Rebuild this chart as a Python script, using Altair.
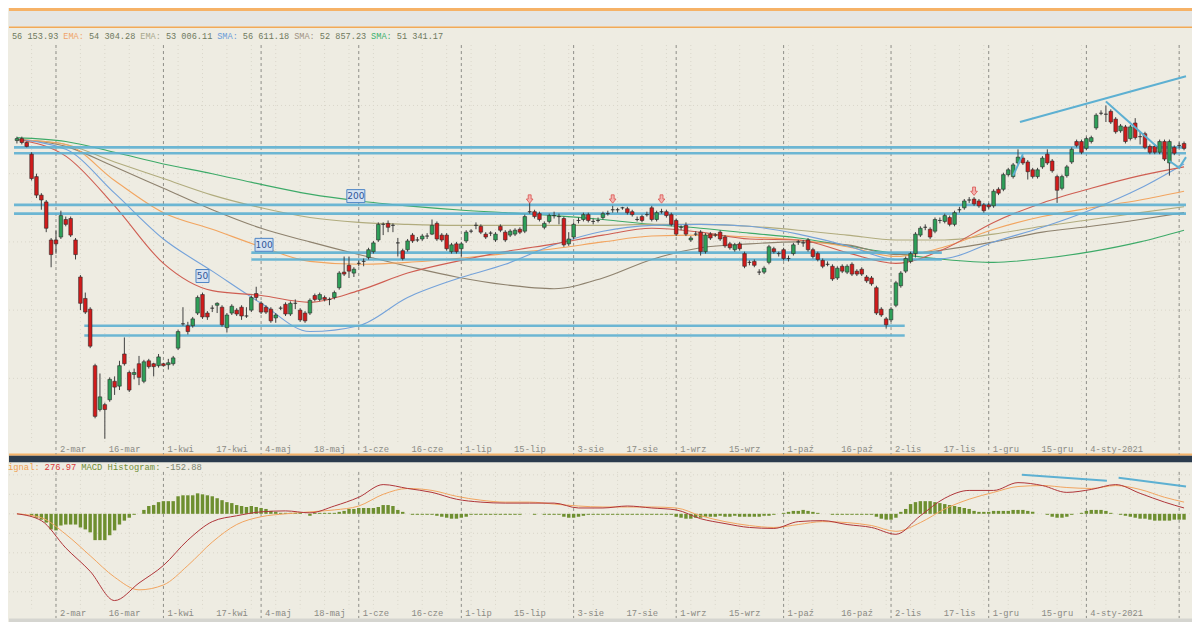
import altair as alt
import pandas as pd

# ---------------------------------------------------------------- layout
W, H = 1184, 614
SX, SY = W / 1200.0, H / 630.0

BG = "#EEECE2"
GREEN_C = "#2E9F58"
RED_C = "#D11B1B"
TL_C = "#5DB0D2"

# ---------------------------------------------------------------- data
# daily candles, trading-day index 0..239 (19-lut-2020 .. ~19-sty-2021)
OPEN = [
58200,58300,58100,57500,56350,55400,55050,53100,53100,53250,
54150,54200,53100,51200,50100,49550,46650,44400,44650,44900,
45850,45600,47250,46300,46200,46750,45850,46900,46750,46650,
46750,46700,46750,47550,48800,48700,48700,49350,50300,49350,
49600,49750,49650,48600,49350,49500,49650,49200,49500,50350,
49850,49650,49550,49100,49600,49800,49300,49850,49500,49350,
49350,50250,50050,50150,50050,50150,50650,51450,51800,51400,
51900,52000,52200,52500,53100,53900,53950,53850,52950,52550,
52600,53350,53100,53150,53300,53400,53950,53350,53350,52500,
52900,52650,53050,53550,53850,53800,53400,53450,53100,53800,
53500,53350,53400,53650,53550,54550,54550,54450,53750,54050,
54350,54300,54200,52900,53250,54100,54150,54400,54050,54100,
54250,54450,54650,54650,54750,54700,54550,54150,54300,54400,
54750,54150,54550,54550,54400,54100,53750,53850,53100,53400,
53500,52500,53400,53350,53500,53250,52900,52600,52900,52400,
51950,52000,51450,51450,51950,52650,52400,52600,52150,52400,
53000,52950,53100,52600,52400,52050,51850,51750,51150,51750,
51450,51850,51500,51600,51200,51150,50650,49550,49050,49000,
49750,50750,51500,52000,52400,53350,53750,53650,53550,54100,
54050,54250,53900,54650,54750,55150,55200,55100,54900,54900,
54850,55700,55700,56450,56350,57050,57300,57100,56700,56350,
56850,57500,57150,56350,55750,56400,57100,58150,58150,57800,
58150,58850,59600,59550,59700,59300,58700,58900,58300,59100,
58400,58550,57900,57900,57600,58150,57050,57850,57950,58050]
HIGH = [
58400,58400,58150,57600,56500,55500,55150,53200,53600,54600,
54300,54300,53200,51300,50400,49650,46750,46250,44750,46050,
46100,46900,48100,46400,46500,47150,46950,47000,46800,47250,
46800,47000,47150,48500,49650,48900,49150,50250,50400,49450,
49750,49900,49750,49350,49800,49600,49750,49650,50250,50700,
49950,49750,49650,49350,49700,49900,49950,50050,49600,49450,
50100,50350,50400,50250,50150,50500,51500,52250,52250,51700,
52050,52150,52700,53050,54000,54000,54100,53950,53200,52650,
53150,53450,53250,53400,53450,54150,54050,53450,53450,52950,
53000,53000,53600,53650,54000,53900,53500,53550,53500,53900,
53600,53650,53700,53750,54400,55000,54650,54550,54050,54450,
54550,54450,54300,53500,54000,54250,54500,54500,54200,54250,
54550,54600,54850,54750,54800,54800,54650,54300,54400,54550,
54850,54600,54700,54650,54500,54200,53850,54000,53300,53550,
53600,53450,53500,53450,53600,53350,53000,52950,53000,52500,
52050,52100,51600,51750,52850,52750,52500,52700,52300,52950,
53100,53100,53200,52700,52500,52150,52000,51850,51750,51850,
51850,51950,51600,51700,51300,51250,50750,49650,49150,49650,
51000,51500,52250,52500,53500,53800,53900,53750,54250,54250,
54450,54350,54600,54800,55200,55300,55300,55200,55000,55000,
55700,55800,56550,56800,57050,57750,57400,57200,56800,56800,
57400,57750,57250,56450,56450,56950,57850,58250,58250,58400,
58450,59600,59750,60000,59800,59400,59050,59000,59000,59350,
58650,58650,58000,58000,58250,58250,58250,57950,58100,58150]
LOW = [
58050,58000,57850,56150,55250,54650,53500,51700,52400,53150,
53800,53250,52100,49500,49300,47550,43950,44300,42900,44800,
45150,45400,46650,45300,45950,45650,45750,46500,46100,46550,
46600,46450,46650,47450,48700,48250,48600,49250,49050,49000,
49400,49350,48650,48350,49250,49200,49000,49100,49400,50000,
49300,49300,48850,48850,49500,49200,49200,49550,48900,48850,
49250,49950,49950,49950,49750,50050,50550,51250,51150,51200,
51750,51750,52100,52400,53000,53350,53500,53500,52250,52050,
52500,52950,53000,53050,53150,53350,53050,53000,52550,52400,
52400,52250,52950,53450,53650,53400,53150,53300,53000,53500,
53000,53250,53300,53400,53450,54450,54200,54050,53650,53950,
54200,53900,52750,52800,53150,53950,54050,54000,53900,54000,
54150,54350,54500,54500,54650,54400,54300,54050,54000,54300,
54050,54050,54450,54250,53800,53300,53600,53300,53000,53300,
52300,52400,53100,53250,53050,52700,52600,52500,52550,51650,
51800,51700,51300,51350,51850,52400,52250,52050,52000,52300,
52850,52750,52500,52150,52000,51650,51750,51000,51050,51400,
51350,51250,51250,51250,50900,50750,49250,49150,48550,48900,
49650,50650,51400,51900,52200,53250,53600,53150,53450,53950,
53950,53800,53800,54500,54650,55000,54850,54750,54500,54700,
54750,55400,55600,56350,56250,56950,56950,56200,56250,56250,
56750,56950,56550,55000,55650,56300,57000,57850,57500,57700,
58050,58750,59500,59150,59050,58550,58600,58050,58200,58250,
58000,57750,57500,57500,57500,57150,56400,57450,57800,57700]
CLOSE = [
58300,58100,57900,56250,55400,55150,53700,52350,52900,54350,
53900,53350,52350,49850,49400,47650,44050,45050,44400,45950,
45550,46650,46750,45400,46300,46050,46850,46600,46600,47100,
46650,46800,47050,48400,48800,48400,49050,50150,49150,49150,
49600,49850,48750,49250,49700,49300,49200,49200,50150,50150,
49400,49400,48950,49250,49600,49300,49850,49850,49000,48950,
50000,50050,50300,50050,50050,50400,51400,51350,51500,51600,
51900,52000,52600,52950,53900,53900,53750,53850,52950,52150,
53050,53050,53100,53300,53300,53850,53150,53100,52650,52850,
52500,52900,53500,53550,53850,53500,53250,53450,53400,53600,
53100,53550,53600,53500,54300,54550,54300,54150,53950,54350,
54350,54300,52850,53150,53900,54100,54400,54100,54050,54100,
54450,54450,54650,54650,54750,54500,54400,54150,54100,54400,
54150,54500,54550,54350,53900,53400,53750,53400,53200,53400,
52500,53350,53200,53350,53150,52800,52700,52850,52650,51750,
51950,51800,51450,51650,52750,52500,52400,52150,52150,52850,
53000,52950,52600,52250,52100,51750,51850,51100,51650,51500,
51750,51350,51350,51350,51000,50850,49350,49250,48750,49550,
50900,51400,52150,52400,53400,53700,53750,53250,54150,54100,
54350,53900,54500,54650,55100,55150,54950,54850,54600,54800,
55600,55500,56450,56700,56950,57350,57050,56600,56350,56700,
57300,57050,56650,55650,56350,56850,57750,57950,57600,58300,
58350,59500,59600,59550,59150,58650,58950,58150,58900,58350,
58400,57850,57600,57600,58150,57250,58150,57550,57950,57800]

# moving averages, read every 10 sessions
MA_K = [0,10,20,30,40,50,60,70,80,90,100,110,120,130,140,150,160,170,180,190,200,210,220,230,239]
EMA_RED = [58250,57400,54850,51900,50500,50250,49900,50500,51400,52000,52500,52900,53350,53700,53500,53150,53100,52450,51900,52650,54000,55000,55750,56400,56850]
EMA_ORANGE = [58250,58000,56150,54500,53650,52750,52000,51850,51950,52150,52400,52650,53000,53300,53350,53250,53100,52750,52250,52750,53650,54300,54750,55150,55600]
EMA_KHAKI = [58250,58000,57100,56250,55400,54750,54250,54000,53900,53850,53850,53850,53850,53900,53900,53800,53600,53350,53100,53100,53400,53800,54150,54500,54800]
SMA_50 = [58250,57750,55500,53150,51500,49850,48400,48700,50150,51100,51850,52850,53550,53850,53900,53800,53400,52800,52100,52150,53000,53750,54650,55750,57000]
SMA_100 = [58250,57900,56850,55750,54650,53700,53000,52350,51750,51200,50800,50600,51150,52100,52700,52900,53000,52850,52350,52600,53000,53500,53800,54150,54500]
SMA_200 = [58350,58150,57600,57000,56500,55950,55450,55100,54850,54650,54500,54350,54150,53900,53700,53450,53200,52800,52400,52100,51950,52150,52500,53000,53600]

# support / resistance levels
SR_LEVEL = [57850,57550,54900,54450,52450,52100,48700,48200]
SR_FROM = [-0.6,-0.6,-0.6,-0.6,48,48,13.8,13.8]
SR_TO = [239.4,239.4,239.4,239.4,189.4,189.4,181.8,181.8]

# drawn trend lines
TREND_ID = ["a","a","b","b","c","c","d","d","d"]
TREND_K = [205.4,239.4,223,233.4,204,206,236,238,239.4]
TREND_P = [59150,61500,60200,57900,56400,57500,57150,56800,57350]

# MA tags and signal arrows
TAG_TEXT = ["50","100","200"]
TAG_K = [38,50.6,69.4]
TAG_P = [51250,52850,55350]
ARROW_K = [105,122,132,196]
ARROW_P = [55200,55200,55200,55600]

# MACD panel
MACD_K = list(range(0, 240, 5)) + [239]
MACD_LINE = [0,-175,-875,-1475,-2225,-1775,-1325,-675,-200,-50,
             50,75,25,200,425,750,650,550,375,300,
             275,275,275,150,150,200,150,100,-125,-250,
             -350,-375,-200,-175,-275,-350,-525,-50,400,600,
             600,800,725,550,625,750,525,300,150]
MACD_SIGNAL = [0,-100,-525,-1075,-1625,-1950,-1825,-1325,-725,-275,
               -75,0,50,100,200,500,650,600,450,350,
               300,300,250,200,175,175,175,150,-50,-200,
               -300,-350,-275,-200,-225,-300,-450,-225,125,375,
               550,700,725,675,650,725,625,425,300]
HIST = [0,0,0,
        -50,-100,-150,-225,-400,-425,-300,-275,-275,-275,-350,-400,-475,-675,-675,-675,-550,-425,-275,-175,-100,-25,0,
        100,200,225,300,325,325,325,450,475,475,475,525,500,475,450,400,350,300,275,225,200,175,200,175,150,125,75,50,25,25,25,25,25,0,
        -50,25,25,25,25,25,50,75,125,125,150,150,150,150,175,225,225,200,100,50,0,
        -25,-25,-25,-25,-25,-50,
        -75,-100,-125,-125,-100,-75,
        -25,-25,-25,-25,-25,-25,-25,-25,-25,-25,-25,
        0,0,-25,0,-25,-25,-25,-25,
        -75,-100,-100,-75,-50,
        -25,-25,-25,-25,-25,-25,-25,-25,-25,-25,-25,-25,-25,-25,-25,-25,-25,-25,
        -75,-100,-125,-125,-100,-100,-75,
        -75,-75,-50,-75,-75,-50,-75,-75,-75,-75,-75,-50,-50,-25,0,
        25,50,75,75,100,75,50,25,
        0,0,-25,-25,-25,-25,-25,-25,-25,-25,-25,
        -75,-125,-150,-150,-100,
        50,125,250,300,325,325,325,300,275,250,225,200,175,150,125,75,50,50,
        50,75,75,75,75,100,100,100,75,50,
        0,0,-25,
        -75,-100,-100,-75,-25,
        0,25,
        75,100,100,100,75,25,0,
        -25,-50,-75,-100,-125,-125,-150,-175,-175,-175,-175,-150,-150,-150]
MACD_TREND_ID = ["a","a","b","b"]
MACD_TREND_K = [205.8,223.2,225.6,239.4]
MACD_TREND_V = [1000,850,925,700]

# x-axis labels
MONTH_K = [8,30,50,70,91,114,135,157,179,199,219,238]
MONTH_LABEL = ["2-mar","1-kwi","4-maj","1-cze","1-lip","3-sie","1-wrz","1-paź","2-lis","1-gru","4-sty-2021",""]
HALF_K = [18,40,60,80,101,124,145,168,189,209]
HALF_LABEL = ["16-mar","17-kwi","18-maj","16-cze","15-lip","17-sie","15-wrz","16-paź","17-lis","15-gru"]
WEEK_K = list(range(3, 240, 5))
PRICE_GRID = [60000,56500,53000,49500,46000]
MACD_GRID = [1000,500,0,-500,-1000,-1500,-2000]

LEGEND_TOP = [("56 153.93", "#6f7a5e"), ("EMA:", "#f0a46a"), ("54 304.28", "#6f7a5e"),
              ("EMA:", "#a8a88c"), ("53 006.11", "#6f7a5e"), ("SMA:", "#6a9bd8"),
              ("56 611.18", "#6f7a5e"), ("SMA:", "#a09282"), ("52 857.23", "#6f7a5e"),
              ("SMA:", "#3bb06e"), ("51 341.17", "#6f7a5e")]
LEGEND_MACD = [("ignal:", "#f0a050"), ("276.97", "#d83a3a"), ("MACD Histogram:", "#6f8f3a"), ("-152.88", "#7d8570")]

assert len(OPEN) == len(HIGH) == len(LOW) == len(CLOSE) == 240
assert len(HIST) == 240 and len(MACD_LINE) == len(MACD_K) == len(MACD_SIGNAL)

# ---------------------------------------------------------------- scales
xs = alt.Scale(domain=[-0.6, 239.4], nice=False, zero=False)
ps = alt.Scale(domain=[33500, 65000], nice=False, zero=False)
ms = alt.Scale(domain=[-2775, 12975], nice=False, zero=False)


def X(f):
    return alt.X(f, type="quantitative", scale=xs, axis=None)


def PY(f):
    return alt.Y(f, type="quantitative", scale=ps, axis=None)


def MY(f):
    return alt.Y(f, type="quantitative", scale=ms, axis=None)


ONE = alt.Data(values=[{"a": 1}])


def band(y0, y1, color):
    return alt.Chart(ONE).mark_rect(color=color).encode(
        x=alt.value(0), x2=alt.value(W), y=alt.value(y0 * SY), y2=alt.value(y1 * SY))


def text_at(txt, xref, yref, color, size=8.6, font="Liberation Mono"):
    return alt.Chart(ONE).mark_text(text=txt, color=color, font=font, fontSize=size,
                                    align="left", baseline="middle").encode(
        x=alt.value(xref * SX), y=alt.value(yref * SY))


layers = []

# header bands and separators
layers += [band(0, 3, "#F6B267"), band(3, 19, "#E6E6E3"), band(19, 20.5, "#F2A957"),
           band(457, 459.5, "#F3B36B"), band(459.5, 466, "#2B3B4D"), band(626.5, 630, "#D5D5D0")]

# grid
week_df = pd.DataFrame({"k": WEEK_K})
month_df = pd.DataFrame({"k": MONTH_K, "t": MONTH_LABEL})
half_df = pd.DataFrame({"k": HALF_K, "t": HALF_LABEL})
for y0, y1 in [(38, 446), (476, 616)]:
    layers.append(alt.Chart(week_df).mark_rule(color="#D9D6CA", strokeDash=[1, 3], strokeWidth=1).encode(
        x=X("k"), y=alt.value(y0 * SY), y2=alt.value(y1 * SY)))
for y0, y1 in [(38, 458), (476, 626)]:
    layers.append(alt.Chart(month_df).mark_rule(color="#8E8E88", strokeDash=[3, 3], strokeWidth=1).encode(
        x=X("k"), y=alt.value(y0 * SY), y2=alt.value(y1 * SY)))
layers.append(alt.Chart(pd.DataFrame({"p": PRICE_GRID})).mark_rule(
    color="#D9D6CA", strokeDash=[1, 3], strokeWidth=1).encode(
    x=alt.value(0), x2=alt.value(W), y=PY("p")))
layers.append(alt.Chart(pd.DataFrame({"m": MACD_GRID})).mark_rule(
    color="#D9D6CA", strokeDash=[1, 3], strokeWidth=1).encode(
    x=alt.value(0), x2=alt.value(W), y=MY("m")))

# moving averages (one layer each, fixed colours)
ma_series = [(SMA_200, "#3DAA68"), (SMA_100, "#8E826E"), (EMA_KHAKI, "#B1AC7E"),
             (EMA_ORANGE, "#F2A560"), (SMA_50, "#74A2DA"), (EMA_RED, "#CF5E52")]
for vals, col in ma_series:
    layers.append(alt.Chart(pd.DataFrame({"k": MA_K, "p": vals})).mark_line(
        strokeWidth=1.1, interpolate="monotone", clip=True, color=col).encode(x=X("k"), y=PY("p")))

# support / resistance
sr_df = pd.DataFrame({"k0": SR_FROM, "k1": SR_TO, "p": SR_LEVEL})
layers.append(alt.Chart(sr_df).mark_rule(color=TL_C, strokeWidth=2.6, opacity=0.9).encode(
    x=X("k0"), x2="k1:Q", y=PY("p")))

# candles
cdf = pd.DataFrame({"k": list(range(240)), "open": OPEN, "high": HIGH, "low": LOW, "close": CLOSE})
layers.append(alt.Chart(cdf).mark_rule(color="#404040", strokeWidth=1).encode(
    x=X("k"), y=PY("low"), y2="high:Q"))
for cond, col in [("datum.close > datum.open", GREEN_C), ("datum.close < datum.open", RED_C),
                  ("datum.close == datum.open", "#303030")]:
    layers.append(alt.Chart(cdf).transform_filter(cond).mark_bar(
        width=3.6, stroke="#2b2b2b", strokeWidth=0.6, color=col).encode(
        x=X("k"), y=PY("open"), y2="close:Q"))

# trend lines
tdf = pd.DataFrame({"id": TREND_ID, "k": TREND_K, "p": TREND_P})
layers.append(alt.Chart(tdf).mark_line(color=TL_C, strokeWidth=2, clip=True).encode(
    x=X("k"), y=PY("p"), detail="id:N"))

# MA tags
tag_df = pd.DataFrame({"t": TAG_TEXT, "k": TAG_K, "p": TAG_P})
layers.append(alt.Chart(tag_df).transform_filter("length(datum.t) == 3").mark_point(
    shape="M-1,-0.72L1,-0.72L1,0.72L-1,0.72Z", size=324, filled=True,
    fill="#D5E2F1", stroke="#4F86C6", strokeWidth=1, opacity=1).encode(x=X("k"), y=PY("p")))
layers.append(alt.Chart(tag_df).transform_filter("length(datum.t) == 2").mark_point(
    shape="square", size=169, filled=True, fill="#D5E2F1", stroke="#4F86C6",
    strokeWidth=1, opacity=1).encode(x=X("k"), y=PY("p")))
layers.append(alt.Chart(tag_df).mark_text(font="DejaVu Sans", fontSize=9, color="#2F5597",
                                          baseline="middle", align="center").encode(
    x=X("k"), y=PY("p"), text="t:N"))

# arrows
arr_df = pd.DataFrame({"k": ARROW_K, "p": ARROW_P})
layers.append(alt.Chart(arr_df).mark_point(
    shape="M-0.35,-1L0.35,-1L0.35,0L0.8,0L0,1L-0.8,0L-0.35,0Z", size=70, filled=True,
    fill="#F4B3B0", stroke="#D9534F", strokeWidth=0.8, opacity=1).encode(x=X("k"), y=PY("p")))

# MACD panel
hdf = pd.DataFrame({"k": list(range(240)), "h": HIST})
layers.append(alt.Chart(hdf).mark_bar(width=3.4, color="#6E8F30").encode(
    x=X("k"), y=MY("h"), y2=alt.datum(0)))
mdf = pd.DataFrame({"k": MACD_K, "macd": MACD_LINE, "sig": MACD_SIGNAL})
layers.append(alt.Chart(mdf).mark_line(strokeWidth=1, interpolate="monotone", color="#F2A560").encode(
    x=X("k"), y=MY("sig")))
layers.append(alt.Chart(mdf).mark_line(strokeWidth=1, interpolate="monotone", color="#B0363A").encode(
    x=X("k"), y=MY("macd")))
mtdf = pd.DataFrame({"id": MACD_TREND_ID, "k": MACD_TREND_K, "v": MACD_TREND_V})
layers.append(alt.Chart(mtdf).mark_line(color=TL_C, strokeWidth=2, clip=True).encode(
    x=X("k"), y=MY("v"), detail="id:N"))

# x labels (both panels)
for yref in (453, 621):
    for d in (month_df[month_df["t"] != ""], half_df):
        layers.append(alt.Chart(d).mark_text(align="left", baseline="middle", dx=4 * SX,
                                             font="Liberation Mono", fontSize=8.8, color="#8A8A84").encode(
            x=X("k"), y=alt.value(yref * SY), text="t:N"))

# legends (monospace, 5.2 px per character)
off = 0
for seg, col in LEGEND_TOP:
    layers.append(text_at(seg, 3 + 5.2 * off, 29, col))
    off += len(seg) + 1
off = 0
for seg, col in LEGEND_MACD:
    layers.append(text_at(seg, -1 + 5.3 * off, 471, col, size=8.8))
    off += len(seg) + 1

chart = alt.layer(*layers).resolve_scale(y="independent").properties(
    width=W, height=H, padding=0, background=BG,
    autosize=alt.AutoSizeParams(type="fit", contains="padding"),
).configure_view(stroke=None)

chart.save("out.html", embed_options={"renderer": "svg", "actions": False})
